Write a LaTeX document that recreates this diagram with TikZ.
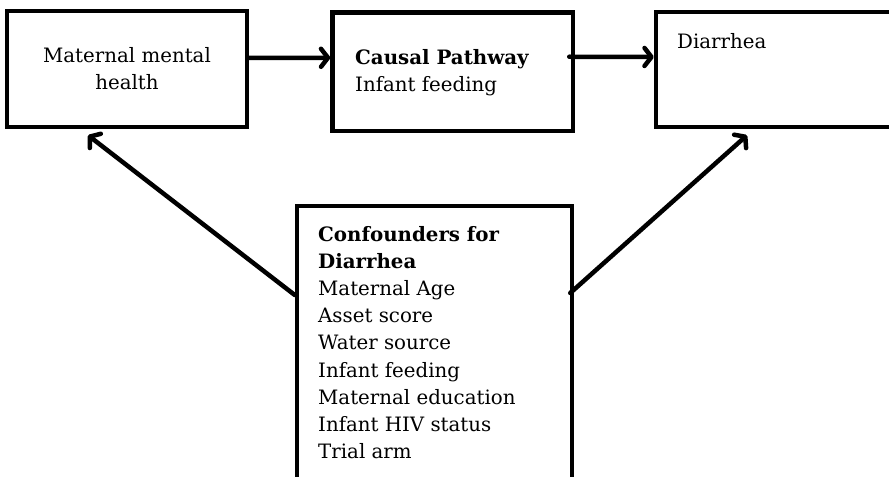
\documentclass[tikz,border=0pt]{standalone}
\usepackage{fontspec}
\setmainfont{DejaVu Serif}
\usetikzlibrary{arrows.meta}
\begin{document}
\begin{tikzpicture}[x=1bp,y=-1bp,
  box/.style={draw=black, line width=4.5bp, rectangle, inner sep=0pt, fill=white},
  txt/.style={inner sep=0pt, font=\fontsize{19.8bp}{27bp}\selectfont},
  arr/.style={line width=4.5bp, line cap=round,
    -{Straight Barb[length=7bp,width=18bp,line cap=round,line join=round]}}]
\useasboundingbox (0,0) rectangle (889,477);
\fill[white] (0,0) rectangle (889,477);
\clip (0,0) rectangle (889,477);
% boxes
\node[box, minimum width=240bp, minimum height=116bp] (b1) at (127,69) {};
\node[box, minimum width=240.5bp, minimum height=118.5bp] (b2) at (452.75,71.75) {};
\node[box, minimum width=244bp, minimum height=115bp] (b3) at (778,69.5) {};
\node[box, minimum width=275bp, minimum height=284bp] (b4) at (434.5,348) {};
% texts
\node[txt, anchor=base] (t1) at (127,63)
  {\begin{tabular}[t]{@{}c@{}}Maternal mental\\health\end{tabular}};
\node[txt, anchor=base west] (t2) at (355,65)
  {\begin{tabular}[t]{@{}l@{}}\textbf{Causal Pathway}\\Infant feeding\end{tabular}};
\node[txt, anchor=base west] (t3) at (677,49) {Diarrhea};
\node[txt, anchor=base west] (t4) at (318,242)
  {\begin{tabular}[t]{@{}l@{}}\textbf{Confounders for}\\\textbf{Diarrhea}\\Maternal Age\\Asset score\\Water source\\Infant feeding\\Maternal education\\Infant HIV status\\Trial arm\end{tabular}};
% arrows
\draw[arr] ([yshift=11bp]b1.east) -- ([yshift=14bp]b2.west);
\draw[arr] ([xshift=-6bp,yshift=15bp]b2.east) -- ([yshift=12.5bp]b3.west);
\draw[arr] ([yshift=53bp]b4.west) -- ([xshift=-39bp,yshift=-6bp]b1.south);
\draw[arr] ([xshift=-4bp,yshift=55bp]b4.east) -- ([xshift=-31bp,yshift=-6bp]b3.south);
\end{tikzpicture}
\end{document}
